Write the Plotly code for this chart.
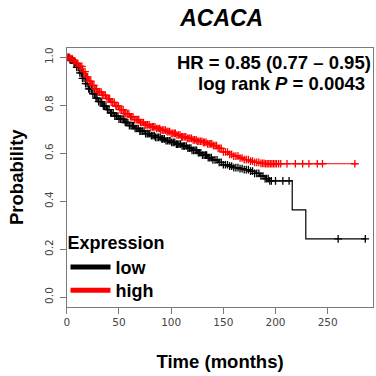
import plotly.graph_objects as go
import bisect

# ---- data ----
high_t = [0, 3, 6, 9, 12, 15, 18, 21, 24, 27, 30, 34, 38, 42, 46, 50, 55, 60, 65, 70, 75, 80, 85, 90, 95,
          100, 105, 110, 115, 120, 125, 130, 135, 140, 145, 150, 155, 160, 165, 170, 175, 180, 185, 190, 278]
high_s = [1.0, 0.995, 0.985, 0.975, 0.962, 0.94, 0.918, 0.9, 0.883, 0.868, 0.855, 0.842, 0.828, 0.812, 0.797,
          0.782, 0.765, 0.752, 0.74, 0.728, 0.718, 0.71, 0.703, 0.696, 0.69, 0.683, 0.676, 0.668, 0.662, 0.656,
          0.65, 0.645, 0.639, 0.632, 0.62, 0.605, 0.595, 0.588, 0.58, 0.573, 0.567, 0.562, 0.558, 0.556, 0.556]

low_t = [0, 3, 6, 9, 12, 15, 18, 21, 24, 27, 30, 34, 38, 42, 46, 50, 55, 60, 65, 70, 75, 80, 85, 90, 95,
         100, 105, 110, 115, 120, 125, 130, 135, 140, 145, 150, 155, 160, 165, 170, 175, 180, 185, 190, 194,
         216, 229, 287]
low_s = [1.0, 0.99, 0.975, 0.958, 0.935, 0.912, 0.89, 0.868, 0.848, 0.83, 0.815, 0.797, 0.782, 0.768, 0.755,
         0.742, 0.728, 0.715, 0.703, 0.692, 0.682, 0.673, 0.666, 0.66, 0.652, 0.645, 0.638, 0.63, 0.621, 0.612,
         0.602, 0.592, 0.582, 0.572, 0.562, 0.552, 0.546, 0.54, 0.536, 0.532, 0.525, 0.516, 0.505, 0.494, 0.485,
         0.364, 0.243, 0.243]

high_cens = [1, 2.5, 3.5, 5, 6.5, 7.5, 9, 10.5, 12, 13, 14.5, 16, 17.5, 19, 20, 21.5, 23, 24.5, 26, 27, 28.5,
             30, 31.5, 33, 34, 35.5, 37, 38.5, 40, 41, 42.5, 44, 45.5, 47, 48, 49.5, 51, 52.5, 54, 55, 56.5, 58,
             59.5, 61, 62, 63.5, 65, 66.5, 68, 69, 70.5, 72, 73.5, 75, 76, 77.5, 79, 80.5, 82, 83, 84.5, 86, 87.5,
             89, 90, 91.5, 93, 94.5, 96, 97, 98.5, 100, 101.5, 103, 104, 105.5, 107, 108.5, 110, 111, 112.5, 114,
             115.5, 117, 118, 119.5, 121, 122.5, 124, 125, 126.5, 128, 129.5, 131, 132, 133.5, 135, 136.5, 138,
             139, 140.5, 142, 143.5, 145, 146.5, 148, 150, 152, 154, 156, 158, 160, 162, 164, 166, 168, 170, 172,
             174, 176, 178, 180, 182, 184, 186, 187.5, 189, 190.5, 192, 193.5, 195, 196.5, 198, 199.5, 201, 203,
             205, 211, 219, 226, 232, 240, 245, 276]
low_cens = [1.5, 3, 4, 5.5, 7, 8, 9.5, 11, 12.5, 14, 15, 16.5, 18, 19.5, 21, 22, 23.5, 25, 26.5, 28, 29, 30.5,
            32, 33.5, 35, 36, 37.5, 39, 40.5, 42, 43, 44.5, 46, 47.5, 49, 50, 51.5, 53, 54.5, 56, 57, 58.5, 60,
            61.5, 63, 64, 65.5, 67, 68.5, 70, 71, 72.5, 74, 75.5, 77, 78, 79.5, 81, 82.5, 84, 85, 86.5, 88, 89.5,
            91, 92, 93.5, 95, 96.5, 98, 99, 100.5, 102, 103.5, 105, 106, 107.5, 109, 110.5, 112, 113, 114.5, 116,
            117.5, 119, 120, 121.5, 123, 124.5, 126, 127, 128.5, 130, 131.5, 133, 134, 135.5, 137, 138.5, 140,
            142, 144, 146, 148, 150, 152, 154, 156, 158, 160, 162, 164, 166, 168, 170, 172, 174, 176, 178, 180,
            182, 184, 186, 188, 190, 191.5, 193, 194.5, 196, 200, 207, 213, 260, 286]

x_ticks = [0, 50, 100, 150, 200, 250]
y_ticks = [0.0, 0.2, 0.4, 0.6, 0.8, 1.0]
y_tick_labels = ["0.0", "0.2", "0.4", "0.6", "0.8", "1.0"]

title_text = "ACACA"
hr_text = "HR = 0.85 (0.77 \u2013 0.95)"
p_text = "log rank <i>P</i> = 0.0043"


def surv_at(ts, ss, t):
    i = bisect.bisect_right(ts, t) - 1
    return ss[max(i, 0)]


W = H = 376
px_l, px_r, px_t, px_b = 64.3, 373.3, 47.7, 306.7

fig = go.Figure()

for name, ts, ss, cens, col in [("low", low_t, low_s, low_cens, "#000000"),
                                ("high", high_t, high_s, high_cens, "#ff0000")]:
    fig.add_trace(go.Scatter(x=ts, y=ss, mode="lines", line=dict(color=col, width=1.2, shape="hv"),
                             showlegend=False, hoverinfo="skip"))
    fig.add_trace(go.Scatter(x=cens, y=[surv_at(ts, ss, c) for c in cens], mode="markers",
                             marker=dict(symbol="cross-thin", size=5.5, line=dict(color=col, width=1.3)),
                             showlegend=False, hoverinfo="skip"))

fig.add_trace(go.Scatter(x=[None], y=[None], mode="lines", name="<b>low</b>",
                         line=dict(color="#000000", width=5), legend="legend"))
fig.add_trace(go.Scatter(x=[None], y=[None], mode="lines", name="<b>high</b>",
                         line=dict(color="#ff0000", width=5), legend="legend2"))

axis_common = dict(showline=True, mirror=True, linecolor="#7a7a7a", linewidth=1, ticks="outside",
                   ticklen=6, tickcolor="#7a7a7a", showgrid=False, zeroline=False,
                   tickfont=dict(family="DejaVu Sans", size=10.5, color="#444444"))

leg_font = dict(family="Liberation Sans", size=18, color="black")

fig.update_layout(
    width=W, height=H, margin=dict(l=0, r=0, t=0, b=0),
    paper_bgcolor="white", plot_bgcolor="white",
    xaxis=dict(domain=[px_l / W, px_r / W], range=[0, 293.7], tickvals=x_ticks, **axis_common,
               title=dict(text="<b>Time (months)</b>", font=dict(family="Liberation Sans", size=18.5, color="black"),
                          standoff=27)),
    yaxis=dict(domain=[1 - px_b / H, 1 - px_t / H], range=[-0.04, 1.04], tickvals=y_ticks,
               ticktext=y_tick_labels, tickangle=-90, ticklabelstandoff=3, **axis_common,
               title=dict(text="<b>Probability</b>", font=dict(family="Liberation Sans", size=18.5, color="black"),
                          standoff=14)),
    title=dict(text="<b><i>" + title_text + "</i></b>", x=221.7 / W, xanchor="center", y=1 - 18.3 / H,
               yanchor="middle", font=dict(family="Liberation Sans", size=23, color="black")),
    legend=dict(x=63 / W, y=1 - 225.5 / H, xanchor="left", yanchor="top", bgcolor="rgba(0,0,0,0)",
                font=leg_font, title=dict(text="<b>Expression</b>", font=leg_font),
                tracegroupgap=0, itemwidth=40),
    legend2=dict(x=63 / W, y=1 - 272 / H, xanchor="left", yanchor="top", bgcolor="rgba(0,0,0,0)",
                 font=leg_font, tracegroupgap=0, itemwidth=40),
    annotations=[
        dict(text="<b>" + hr_text + "</b>", x=373 / W, y=1 - 62.7 / H, xref="paper", yref="paper",
             xanchor="right", yanchor="middle", showarrow=False,
             font=dict(family="Liberation Sans", size=18.5, color="black")),
        dict(text="<b>" + p_text + "</b>", x=367 / W, y=1 - 83.3 / H, xref="paper", yref="paper",
             xanchor="right", yanchor="middle", showarrow=False,
             font=dict(family="Liberation Sans", size=18.5, color="black")),
    ],
)

fig.write_html("out.html")
